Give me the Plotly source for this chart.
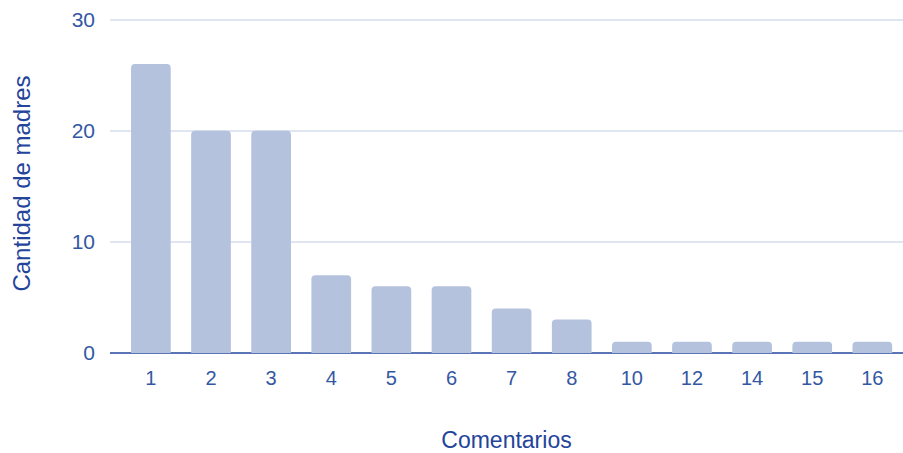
import plotly.graph_objects as go

# Number of comments per mother and how many mothers wrote that many
comentarios = ["1", "2", "3", "4", "5", "6", "7", "8", "10", "12", "14", "15", "16"]
madres = [26, 20, 20, 7, 6, 6, 4, 3, 1, 1, 1, 1, 1]
y_ticks = [0, 10, 20, 30]

bar_color = "#b4c2dd"
text_color = "#3457a3"
title_color = "#23449a"
font_family = "Liberation Sans, Arial, sans-serif"

fig = go.Figure(
    go.Bar(
        x=comentarios,
        y=madres,
        marker=dict(color=bar_color, line=dict(width=0)),
        width=0.66,
        hoverinfo="x+y",
    )
)

fig.update_layout(
    width=903,
    height=453,
    margin=dict(l=110, r=0, t=13, b=99),
    paper_bgcolor="white",
    plot_bgcolor="white",
    barcornerradius=4,
    showlegend=False,
    font=dict(family=font_family, color=text_color),
)

fig.update_xaxes(
    type="category",
    range=[-0.68, 12.51],
    showgrid=False,
    showline=False,
    zeroline=False,
    ticks="",
    ticklabelstandoff=10,
    tickfont=dict(size=20, color=text_color),
    title=dict(text="Comentarios", font=dict(size=23, color=title_color), standoff=46),
)

fig.update_yaxes(
    range=[-0.1, 30.6],
    tickvals=y_ticks,
    showgrid=True,
    gridcolor="#dfe5f1",
    gridwidth=1.5,
    zeroline=True,
    zerolinecolor="#5b74b6",
    zerolinewidth=2,
    showline=False,
    ticks="",
    ticklabelstandoff=14,
    tickfont=dict(size=21, color=text_color),
    title=dict(text="Cantidad de madres", font=dict(size=24, color=title_color), standoff=34),
    layer="below traces",
)

fig.write_html("out.html", config={"displayModeBar": False})
